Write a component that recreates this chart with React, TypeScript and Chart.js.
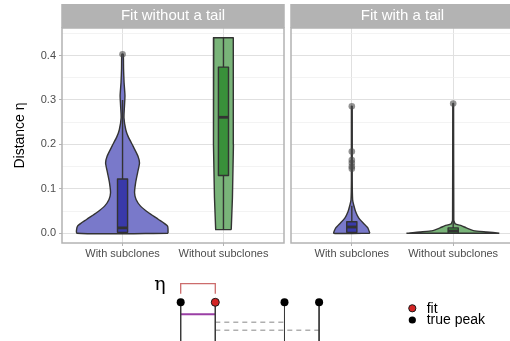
import { useEffect, useRef } from 'react';
import { Chart, registerables } from 'chart.js';

Chart.register(...registerables);

const FONT = '"Liberation Sans", Arial, Helvetica, sans-serif';

// ---- facet data -------------------------------------------------------
const categories = ['With subclones', 'Without subclones'];
const facetTitles = ['Fit without a tail', 'Fit with a tail'];
const yTitle = 'Distance η';
const yTickValues = [0, 0.05, 0.1, 0.15, 0.2, 0.25, 0.3, 0.35, 0.4, 0.45];

// violin outlines: η levels and the half-width of the density at each level
const noTailWithLevels = [0, 0.016, 0.031, 0.046, 0.061, 0.076, 0.091, 0.113, 0.136, 0.158, 0.173, 0.196, 0.218, 0.233, 0.26, 0.29, 0.31, 0.34, 0.37, 0.403];
const noTailWithHalf = [0.451, 0.446, 0.357, 0.258, 0.178, 0.134, 0.119, 0.129, 0.149, 0.168, 0.154, 0.104, 0.055, 0.032, 0.014, 0.02, 0.024, 0.015, 0.01, 0.007];
const noTailWithoutLevels = [0.008, 0.08, 0.2, 0.3, 0.44];
const noTailWithoutHalf = [0.077, 0.089, 0.099, 0.099, 0.096];
const tailWithLevels = [0, 0.012, 0.023, 0.034, 0.049, 0.064, 0.075, 0.12, 0.286];
const tailWithHalf = [0.178, 0.158, 0.112, 0.069, 0.037, 0.018, 0.008, 0.004, 0.004];
const tailWithoutLevels = [0, 0.003, 0.006, 0.012, 0.017, 0.021, 0.03, 0.292];
const tailWithoutHalf = [0.455, 0.33, 0.2, 0.13, 0.08, 0.02, 0.006, 0.004];

// box statistics: [lower whisker, Q1, median, Q3, upper whisker]
const noTailWithBox = [0, 0.002, 0.012, 0.122, 0.3];
const noTailWithoutBox = [0.008, 0.13, 0.261, 0.374, 0.44];
const tailWithBox = [0, 0.002, 0.014, 0.026, 0.062];
const tailWithoutBox = [0, 0, 0.005, 0.012, 0.03];

// outlying distances
const noTailWithOutliers = [0.403];
const noTailWithoutOutliers: number[] = [];
const tailWithOutliers = [0.145, 0.15, 0.158, 0.165, 0.184, 0.286];
const tailWithoutOutliers = [0.292];

// ---- schematic data ---------------------------------------------------
const truePeaks = [0, 3, 4];
const fitPeaks = [1];
const matchedPeak = 0;
const legendLabels = ['fit', 'true peak'];
const etaLabel = 'η';

const BLUE = { violin: '#7979CA', box: '#3939AA' };
const GREEN = { violin: '#79B479', box: '#39903A' };
const OUTLINE = '#333333';
const BOX_HALF = 0.05;

type Group = { levels: number[]; half: number[]; box: number[]; outliers: number[]; colors: { violin: string; box: string }; tension: number };

const isMajor = (v: number) => Math.abs(v * 10 - Math.round(v * 10)) < 1e-6;

function violinPolygon(center: number, levels: number[], half: number[]) {
  const right = levels.map((y, i) => ({ x: center + half[i], y }));
  const left = levels.map((y, i) => ({ x: center - half[i], y })).reverse();
  return [...right, ...left, right[0]];
}

function facetDatasets(groups: Group[]) {
  const ds: any[] = [];
  const line = { showLine: true, pointRadius: 0, borderColor: OUTLINE, borderWidth: 1.4, borderJoinStyle: 'round', borderCapStyle: 'butt' };
  groups.forEach((g, i) => {
    const c = i + 1;
    const [lo, q1, med, q3, hi] = g.box;
    ds.push({ ...line, data: violinPolygon(c, g.levels, g.half), fill: 'shape', backgroundColor: g.colors.violin, tension: g.tension, order: 5 });
    ds.push({ ...line, data: [{ x: c, y: q3 }, { x: c, y: hi }], order: 4 });
    ds.push({ ...line, data: [{ x: c, y: lo }, { x: c, y: q1 }], order: 4 });
    ds.push({
      ...line,
      data: [
        { x: c - BOX_HALF, y: q1 }, { x: c + BOX_HALF, y: q1 }, { x: c + BOX_HALF, y: q3 },
        { x: c - BOX_HALF, y: q3 }, { x: c - BOX_HALF, y: q1 },
      ],
      fill: 'shape', backgroundColor: g.colors.box, order: 3,
    });
    ds.push({ ...line, data: [{ x: c - BOX_HALF, y: med }, { x: c + BOX_HALF, y: med }], borderWidth: 2.8, order: 2 });
    ds.push({
      data: g.outliers.map((y) => ({ x: c, y })), showLine: false, pointRadius: 3.3, pointBorderWidth: 0,
      pointBackgroundColor: 'rgba(75,75,75,0.6)', order: 1,
    });
  });
  return ds;
}

function stripPlugin(title: string) {
  return {
    id: 'facetStrip',
    afterDraw(chart: any) {
      const { ctx, chartArea } = chart;
      const { left, right, top, bottom } = chartArea;
      ctx.save();
      ctx.strokeStyle = '#B3B3B3';
      ctx.lineWidth = 1.5;
      ctx.strokeRect(left, top, right - left, bottom - top);
      ctx.fillStyle = '#B3B3B3';
      ctx.fillRect(left - 0.75, top - 24, right - left + 1.5, 24);
      ctx.fillStyle = '#FFFFFF';
      ctx.font = `15px ${FONT}`;
      ctx.textAlign = 'center';
      ctx.textBaseline = 'middle';
      ctx.fillText(title, (left + right) / 2, top - 12);
      ctx.restore();
    },
  };
}

function facetConfig(title: string, groups: Group[], withYAxis: boolean): any {
  return {
    type: 'scatter',
    data: { datasets: facetDatasets(groups) },
    options: {
      animation: false,
      responsive: false,
      events: [],
      layout: { autoPadding: false, padding: { top: 28, left: withYAxis ? 0 : 4, right: withYAxis ? 1 : 0, bottom: 0 } },
      plugins: { legend: { display: false }, tooltip: { enabled: false } },
      scales: {
        x: {
          type: 'linear', min: 0.4, max: 2.6,
          afterBuildTicks: (s: any) => { s.ticks = categories.map((_, i) => ({ value: i + 1 })); },
          afterFit: (s: any) => { s.height = 19; s.paddingLeft = 0; s.paddingRight = 0; },
          ticks: {
            callback: (v: number) => categories[Math.round(v) - 1],
            color: '#4D4D4D', font: { family: FONT, size: 11 }, padding: 1, maxRotation: 0, autoSkip: false,
          },
          grid: { color: '#E0E0E0', lineWidth: 1, tickLength: 3, tickColor: '#B3B3B3' },
          border: { display: false },
        },
        y: {
          type: 'linear', min: -0.022, max: 0.462,
          afterBuildTicks: (s: any) => { s.ticks = yTickValues.map((v) => ({ value: v })); },
          afterFit: (s: any) => { s.width = withYAxis ? 62 : 0; s.paddingTop = 0; s.paddingBottom = 0; },
          ticks: {
            display: withYAxis,
            callback: (v: number) => (isMajor(v) ? v.toFixed(1) : ''),
            color: '#4D4D4D', font: { family: FONT, size: 11 }, padding: 3, autoSkip: false,
          },
          grid: {
            color: (ctx: any) => (isMajor(ctx.tick.value) ? '#E0E0E0' : '#EEEEEE'),
            lineWidth: (ctx: any) => (isMajor(ctx.tick.value) ? 1 : 0.7),
            drawTicks: withYAxis,
            tickLength: 3,
            tickColor: (ctx: any) => (isMajor(ctx.tick.value) ? '#B3B3B3' : 'rgba(0,0,0,0)'),
          },
          border: { display: false },
          title: {
            display: withYAxis, text: yTitle, color: '#000000',
            font: { family: FONT, size: 14 }, padding: { top: 12, bottom: 0 },
          },
        },
      },
    },
    plugins: [stripPlugin(title)],
  };
}

// ---- schematic of peak matching -----------------------------------------
const schematicText = {
  id: 'schematicText',
  afterDatasetsDraw(chart: any) {
    const { ctx, scales } = chart;
    const px = (x: number) => scales.x.getPixelForValue(x);
    const py = (y: number) => scales.y.getPixelForValue(y);
    ctx.save();
    ctx.fillStyle = '#000000';
    ctx.textBaseline = 'middle';
    ctx.textAlign = 'center';
    ctx.font = '19px "DejaVu Serif", "Liberation Serif", serif';
    ctx.fillText(etaLabel, px(-0.6), py(1.75));
    ctx.textAlign = 'left';
    ctx.font = `14px ${FONT}`;
    legendLabels.forEach((t, i) => ctx.fillText(t, px(7.11), py(-0.65 - 1.17 * i)));
    ctx.restore();
  },
};

function schematicConfig(): any {
  const fit = fitPeaks[0];
  const others = truePeaks.filter((p) => p !== matchedPeak);
  const seg = { showLine: true, pointRadius: 0, borderWidth: 1, order: 3 };
  const datasets: any[] = [];
  [...truePeaks, ...fitPeaks].forEach((p) => {
    datasets.push({ ...seg, data: [{ x: p, y: 0 }, { x: p, y: -5 }], borderColor: '#3A3A3A' });
  });
  datasets.push({
    ...seg, borderColor: '#CC6C6C', borderWidth: 1.3,
    data: [{ x: matchedPeak, y: 0.85 }, { x: matchedPeak, y: 1.86 }, { x: fit, y: 1.86 }, { x: fit, y: 0.85 }],
  });
  datasets.push({ ...seg, borderColor: '#9A3FA5', borderWidth: 2, data: [{ x: matchedPeak, y: -1.2 }, { x: fit, y: -1.2 }] });
  others.forEach((p, i) => {
    datasets.push({
      ...seg, borderColor: '#AFAFAF', borderWidth: 1.5, borderDash: [5, 4],
      data: [{ x: fit, y: -2.0 - 0.8 * i }, { x: p, y: -2.0 - 0.8 * i }],
    });
  });
  datasets.push({
    data: truePeaks.map((p) => ({ x: p, y: 0 })), showLine: false, pointRadius: 4,
    pointBackgroundColor: '#000000', pointBorderWidth: 0, order: 1,
  });
  datasets.push({
    data: fitPeaks.map((p) => ({ x: p, y: 0 })), showLine: false, pointRadius: 4,
    pointBackgroundColor: '#D42525', pointBorderColor: '#1A1A1A', pointBorderWidth: 1, order: 0,
  });
  // legend keys
  datasets.push({
    data: [{ x: 6.694, y: -0.6 }], showLine: false, pointRadius: 3.6,
    pointBackgroundColor: '#D42525', pointBorderColor: '#1A1A1A', pointBorderWidth: 1, order: 0,
  });
  datasets.push({
    data: [{ x: 6.694, y: -1.77 }], showLine: false, pointRadius: 3.6,
    pointBackgroundColor: '#000000', pointBorderWidth: 0, order: 0,
  });
  return {
    type: 'scatter',
    data: { datasets },
    options: {
      animation: false,
      responsive: false,
      events: [],
      layout: { autoPadding: false, padding: 0 },
      plugins: { legend: { display: false }, tooltip: { enabled: false } },
      scales: {
        x: { type: 'linear', display: false, min: -5.222, max: 9.517 },
        y: { type: 'linear', display: false, min: -3.87, max: 4.03 },
      },
    },
    plugins: [schematicText],
  };
}

export default function App() {
  const leftRef = useRef<HTMLCanvasElement>(null);
  const rightRef = useRef<HTMLCanvasElement>(null);
  const schemRef = useRef<HTMLCanvasElement>(null);

  useEffect(() => {
    const noTail: Group[] = [
      { levels: noTailWithLevels, half: noTailWithHalf, box: noTailWithBox, outliers: noTailWithOutliers, colors: BLUE, tension: 0.2 },
      { levels: noTailWithoutLevels, half: noTailWithoutHalf, box: noTailWithoutBox, outliers: noTailWithoutOutliers, colors: GREEN, tension: 0 },
    ];
    const tail: Group[] = [
      { levels: tailWithLevels, half: tailWithHalf, box: tailWithBox, outliers: tailWithOutliers, colors: BLUE, tension: 0.15 },
      { levels: tailWithoutLevels, half: tailWithoutHalf, box: tailWithoutBox, outliers: tailWithoutOutliers, colors: GREEN, tension: 0.15 },
    ];
    const charts = [
      new Chart(leftRef.current!, facetConfig(facetTitles[0], noTail, true)),
      new Chart(rightRef.current!, facetConfig(facetTitles[1], tail, false)),
      new Chart(schemRef.current!, schematicConfig()),
    ];
    return () => charts.forEach((c) => c.destroy());
  }, []);

  return (
    <div style={{ position: 'absolute', left: 0, top: 0, width: 510, height: 341, overflow: 'hidden', background: '#FFFFFF' }}>
      <canvas ref={leftRef} width={285} height={262} style={{ position: 'absolute', left: 0, top: 0 }} />
      <canvas ref={rightRef} width={227} height={262} style={{ position: 'absolute', left: 287, top: 0 }} />
      <canvas ref={schemRef} width={510} height={79} style={{ position: 'absolute', left: 0, top: 262 }} />
    </div>
  );
}
